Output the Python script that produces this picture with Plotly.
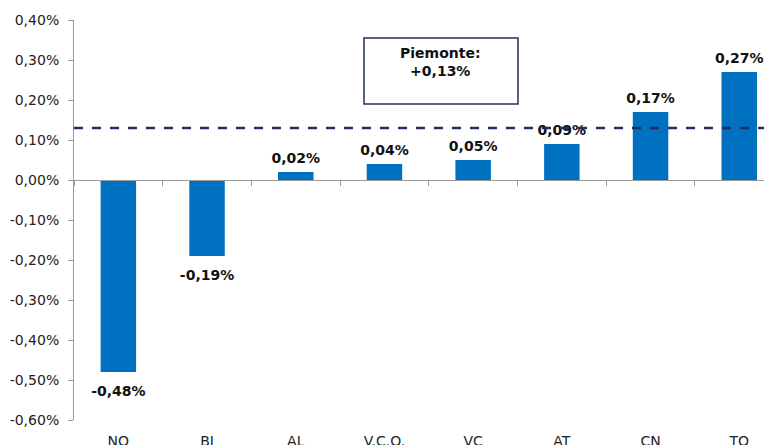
import plotly.graph_objects as go

categories = ["NO", "BI", "AL", "V.C.O.", "VC", "AT", "CN", "TO"]
values = [-0.48, -0.19, 0.02, 0.04, 0.05, 0.09, 0.17, 0.27]
value_labels = ["-0,48%", "-0,19%", "0,02%", "0,04%", "0,05%", "0,09%", "0,17%", "0,27%"]
piemonte_value = 0.13
piemonte_label = "Piemonte:<br>+0,13%"
y_tickvals = [0.40, 0.30, 0.20, 0.10, 0.0, -0.10, -0.20, -0.30, -0.40, -0.50, -0.60]
y_ticktext = ["0,40%", "0,30%", "0,20%", "0,10%", "0,00%", "-0,10%", "-0,20%", "-0,30%",
              "-0,40%", "-0,50%", "-0,60%"]

FONT = "DejaVu Sans"
BAR = "#0070C0"
NAVY = "#1F2F5F"

# page has an 8px body margin: figure origin sits at (8, 8) in the screenshot
OFF = 8
fig_w, fig_h = 772, 445
plot_left, plot_right = 74, 772     # page pixels
plot_top, plot_bottom = 20, 420     # page pixels
plot_w = plot_right - plot_left
plot_h = plot_bottom - plot_top

def px_x(p):
    return (p - plot_left) / plot_w
def px_y(p):
    return (plot_bottom - p) / plot_h

fig = go.Figure()
fig.add_trace(go.Bar(
    x=categories, y=values, width=0.4,
    marker=dict(color=BAR, line=dict(width=0)),
    hoverinfo="x+y",
))
# value labels: above positive bars, below negative ones
for neg in (False, True):
    idx = [i for i, v in enumerate(values) if (v < 0) == neg]
    fig.add_trace(go.Scatter(
        x=[categories[i] for i in idx], y=[values[i] for i in idx],
        mode="markers+text",
        marker=dict(size=20 if neg else 7, opacity=0),
        text=["<b>" + value_labels[i] + "</b>" for i in idx],
        textposition="bottom center" if neg else "top center",
        textfont=dict(family=FONT, size=14, color="#111111"),
        cliponaxis=False, showlegend=False, hoverinfo="skip",
    ))
fig.add_trace(go.Scatter(x=categories, y=[None]*len(categories), xaxis="x2",
                         showlegend=False, hoverinfo="skip"))

fig.add_hline(y=piemonte_value, line=dict(color=NAVY, width=2.5, dash="dash"))

fig.add_shape(type="rect", xref="paper", yref="paper",
              x0=px_x(364), x1=px_x(518), y0=px_y(104), y1=px_y(38),
              line=dict(color=NAVY, width=1.5), fillcolor="white", layer="above")
fig.add_annotation(xref="paper", yref="paper", x=px_x(441), y=px_y(62),
                   text="<b>" + piemonte_label + "</b>", showarrow=False,
                   font=dict(family=FONT, size=14, color="#111111"),
                   align="center", yanchor="middle")

xrange = [-0.5, -0.5 + plot_w / 88.7]
fig.update_layout(
    width=fig_w, height=fig_h,
    margin=dict(l=plot_left - OFF, r=fig_w - (plot_right - OFF),
                t=plot_top - OFF, b=fig_h - (plot_bottom - OFF), autoexpand=False),
    paper_bgcolor="white", plot_bgcolor="white",
    showlegend=False, bargap=0.6,
    font=dict(family=FONT, size=14, color="#222222"),
    xaxis=dict(type="category", range=xrange, showline=False, showgrid=False,
               automargin=False,
               ticks="", tickfont=dict(family=FONT, size=14, color="#222222"),
               ticklabelstandoff=11),
    xaxis2=dict(type="category", overlaying="x", anchor="free", position=0.6,
                range=xrange, showline=True, linecolor="#9a9a9a", linewidth=1,
                automargin=False,
                ticks="outside", ticklen=5, tickcolor="#9a9a9a", tickson="boundaries",
                showticklabels=False, showgrid=False, side="bottom"),
    yaxis=dict(range=[-0.6, 0.4], tickvals=y_tickvals, ticktext=y_ticktext,
               automargin=False,
               showgrid=False, zeroline=False, showline=True, linecolor="#9a9a9a",
               linewidth=1, ticks="outside", ticklen=5, tickcolor="#9a9a9a",
               ticklabelstandoff=6,
               tickfont=dict(family=FONT, size=14, color="#222222")),
)

fig.write_html("out.html")
